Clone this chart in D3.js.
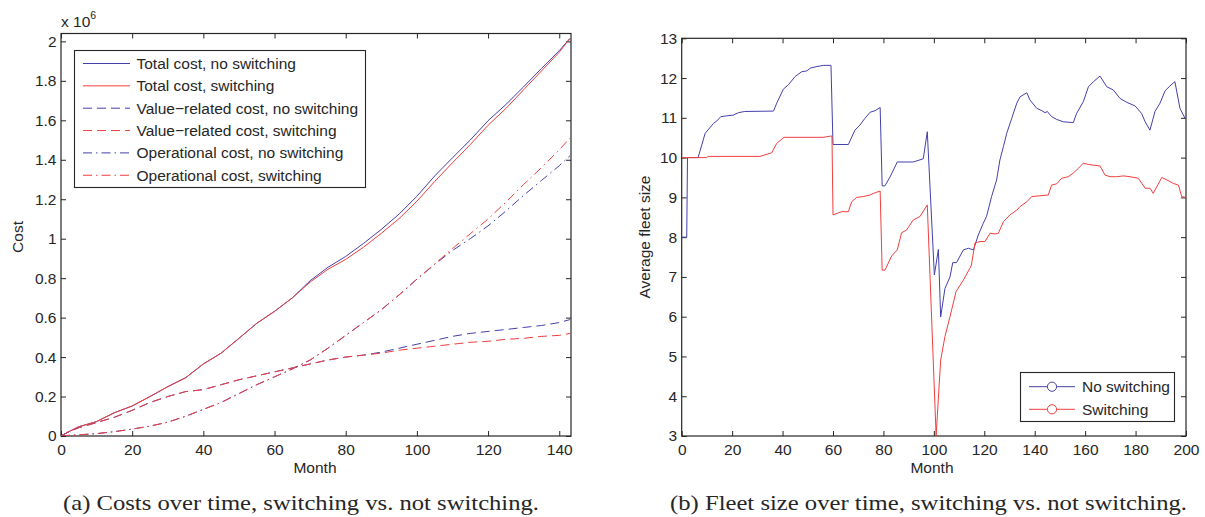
<!DOCTYPE html>
<html>
<head>
<meta charset="utf-8">
<script src="https://cdn.jsdelivr.net/npm/d3@7.9.0/dist/d3.min.js"></script>
<style>
  html, body { margin: 0; padding: 0; background: #fff; }
  svg { display: block; }
  text { font-family: "Liberation Sans", Arial, sans-serif; fill: #262626; }
  .caption { font-family: "Liberation Serif", "DejaVu Serif", serif; }
</style>
</head>
<body>
<svg id="chart" width="1205" height="517"></svg>
<script>
// ====== DATA ======

// (a) costs, in units of 1e6
const costMonths = [0, 2, 5, 10, 15, 20, 25, 30, 35, 40, 45, 50, 55, 60, 65, 70, 75, 80, 85, 90, 95, 100, 105, 110, 115, 120, 125, 130, 135, 140, 143];
const totalNoSwitch = [0, 0.02, 0.047, 0.073, 0.118, 0.152, 0.2, 0.25, 0.295, 0.365, 0.42, 0.495, 0.571, 0.632, 0.70, 0.787, 0.855, 0.91, 0.976, 1.047, 1.125, 1.215, 1.318, 1.41, 1.5, 1.598, 1.68, 1.77, 1.863, 1.953, 2.015];
const totalSwitch = [0, 0.02, 0.047, 0.073, 0.118, 0.152, 0.2, 0.25, 0.295, 0.365, 0.42, 0.495, 0.571, 0.632, 0.70, 0.78, 0.845, 0.895, 0.957, 1.027, 1.102, 1.19, 1.29, 1.385, 1.477, 1.575, 1.66, 1.755, 1.85, 1.945, 2.015];
const valueNoSwitch = [0, 0.02, 0.042, 0.068, 0.095, 0.13, 0.17, 0.2, 0.225, 0.235, 0.26, 0.285, 0.305, 0.325, 0.345, 0.365, 0.385, 0.40, 0.41, 0.425, 0.445, 0.465, 0.485, 0.505, 0.52, 0.53, 0.54, 0.55, 0.56, 0.575, 0.59];
const valueSwitch = [0, 0.02, 0.042, 0.068, 0.095, 0.13, 0.17, 0.2, 0.225, 0.235, 0.26, 0.285, 0.305, 0.325, 0.345, 0.365, 0.385, 0.40, 0.41, 0.42, 0.435, 0.445, 0.455, 0.465, 0.475, 0.48, 0.49, 0.495, 0.505, 0.51, 0.52];
const opNoSwitch = [0, 0.003, 0.006, 0.012, 0.022, 0.035, 0.05, 0.07, 0.1, 0.135, 0.17, 0.215, 0.26, 0.3, 0.34, 0.385, 0.445, 0.51, 0.575, 0.64, 0.715, 0.795, 0.87, 0.94, 1.0, 1.065, 1.14, 1.22, 1.295, 1.37, 1.42];
const opSwitch = [0, 0.003, 0.006, 0.012, 0.022, 0.035, 0.05, 0.07, 0.1, 0.135, 0.17, 0.215, 0.26, 0.3, 0.34, 0.385, 0.445, 0.51, 0.575, 0.64, 0.715, 0.795, 0.872, 0.95, 1.025, 1.1, 1.185, 1.275, 1.36, 1.45, 1.51];

const costLabels = [
  'Total cost, no switching',
  'Total cost, switching',
  'Value\u2212related cost, no switching',
  'Value\u2212related cost, switching',
  'Operational cost, no switching',
  'Operational cost, switching'
];

// (b) average fleet size
const fleetMonthsNo = [0, 2, 2.3, 6.5, 9.3, 12.6, 13.9, 15.5, 17.9, 20.5, 22.5, 25, 36.4, 37.7, 40.3, 42.3, 45, 47.6, 49.6, 51, 53.6, 56.2, 59.2, 60, 66.1, 68.7, 70.7, 72.7, 74.7, 76.7, 78.7, 79.5, 80.6, 82.6, 85.5, 91.8, 95.8, 97.4, 100.2, 101.8, 102.7, 104.4, 106.4, 107.5, 109, 111.7, 113.7, 115.7, 117.6, 119.6, 120.9, 122.9, 124.9, 126.2, 127.6, 128.9, 130.9, 132.9, 134.2, 136.9, 138.1, 140.8, 142.8, 144.1, 145, 146.7, 148.7, 151.4, 155.3, 156.6, 159.3, 161.3, 163.3, 165.9, 168.6, 171.2, 173.8, 176.5, 179.8, 182.4, 183.8, 185.7, 187.7, 189.7, 191.7, 193.6, 195.6, 197.6, 199.6, 200];
const fleetNo = [8, 8, 10, 10, 10.61, 10.86, 10.92, 11.03, 11.05, 11.07, 11.13, 11.16, 11.17, 11.37, 11.72, 11.83, 12.04, 12.16, 12.18, 12.25, 12.29, 12.32, 12.32, 10.33, 10.33, 10.69, 10.82, 10.99, 11.14, 11.18, 11.26, 9.29, 9.29, 9.51, 9.89, 9.89, 9.97, 10.65, 7.05, 7.69, 5.99, 6.71, 7.0, 7.36, 7.36, 7.68, 7.72, 7.68, 8.05, 8.35, 8.52, 9.02, 9.44, 9.94, 10.28, 10.61, 10.99, 11.37, 11.53, 11.63, 11.45, 11.24, 11.18, 11.13, 11.16, 11.03, 10.96, 10.9, 10.88, 11.11, 11.41, 11.78, 11.91, 12.05, 11.78, 11.7, 11.49, 11.39, 11.3, 11.11, 10.9, 10.69, 11.16, 11.37, 11.68, 11.8, 11.91, 11.24, 10.99, 10.97];

const fleetMonthsSw = [0, 9.9, 10.5, 31, 35.7, 37.7, 40.6, 56.2, 58.9, 59.6, 60, 63.4, 66.1, 67.4, 69.4, 72, 74.7, 76, 78.7, 79.5, 80.6, 83.3, 85.5, 87.2, 89.2, 91.8, 94.5, 97.4, 100.9, 102.7, 104.4, 106.4, 108.8, 111.7, 114.3, 114.9, 116.3, 118.3, 120.3, 122.3, 124.3, 125.6, 127.6, 130.2, 132.9, 134.2, 136.9, 138.8, 142.1, 145.4, 146.7, 148.7, 150.7, 153.3, 155.3, 157.3, 159.3, 161.3, 163.3, 165.9, 167.9, 169.9, 172.5, 175.2, 177.8, 181.1, 183.8, 185.7, 187, 190.4, 192.4, 195, 197, 198.3, 200];
const fleetSw = [10, 10, 10.03, 10.03, 10.12, 10.36, 10.51, 10.51, 10.54, 10.54, 8.56, 8.64, 8.64, 8.89, 9.0, 9.02, 9.06, 9.1, 9.16, 7.17, 7.17, 7.53, 7.68, 8.11, 8.18, 8.43, 8.52, 8.81, 3.0, 4.91, 5.5, 6.0, 6.63, 6.92, 7.22, 7.3, 7.85, 7.89, 7.89, 8.1, 8.08, 8.1, 8.39, 8.56, 8.68, 8.77, 8.89, 9.02, 9.04, 9.06, 9.31, 9.34, 9.48, 9.52, 9.61, 9.73, 9.86, 9.83, 9.81, 9.79, 9.56, 9.52, 9.52, 9.54, 9.52, 9.48, 9.23, 9.23, 9.1, 9.5, 9.44, 9.35, 9.31, 9.02, 9.0];

const fleetLabels = ['No switching', 'Switching'];

const costXTicks = [0, 20, 40, 60, 80, 100, 120, 140];
const costYTicks = [0, 0.2, 0.4, 0.6, 0.8, 1, 1.2, 1.4, 1.6, 1.8, 2];
const fleetXTicks = [0, 20, 40, 60, 80, 100, 120, 140, 160, 180, 200];
const fleetYTicks = [3, 4, 5, 6, 7, 8, 9, 10, 11, 12, 13];

// ====== STYLE ======

const BLUE = '#4440aa';
const RED = '#f23e3e';
const AXIS = '#262626';
const FONT = 15.5;
const DASH = '9,5';
const DASHDOT = '9,4,1.5,4';

const svg = d3.select('#chart');

// ====== HELPERS ======

function drawFrame(g, x, y, xTicks, yTicks, yFormat, clipId) {
  const [xl, xr] = x.range();
  const [yb, yt] = y.range();

  g.append('clipPath').attr('id', clipId)
    .append('rect')
    .attr('x', xl).attr('y', yt)
    .attr('width', xr - xl).attr('height', yb - yt);

  const bottom = g.append('g').attr('transform', `translate(0,${yb})`)
    .call(d3.axisBottom(x).tickValues(xTicks).tickSizeInner(-5).tickSizeOuter(0).tickPadding(8));
  const top = g.append('g').attr('transform', `translate(0,${yt})`)
    .call(d3.axisTop(x).tickValues(xTicks).tickSizeInner(-5).tickSizeOuter(0).tickFormat(''));
  const left = g.append('g').attr('transform', `translate(${xl},0)`)
    .call(d3.axisLeft(y).tickValues(yTicks).tickSizeInner(-5).tickSizeOuter(0).tickPadding(4.5).tickFormat(yFormat));
  const right = g.append('g').attr('transform', `translate(${xr},0)`)
    .call(d3.axisRight(y).tickValues(yTicks).tickSizeInner(-5).tickSizeOuter(0).tickFormat(''));

  [bottom, top, left, right].forEach((a) => {
    a.select('.domain').remove();
    a.selectAll('line').attr('stroke', AXIS);
    a.selectAll('text')
      .attr('font-size', FONT)
      .attr('font-family', '"Liberation Sans", Arial, sans-serif')
      .attr('fill', AXIS);
  });

  g.append('rect')
    .attr('x', xl).attr('y', yt)
    .attr('width', xr - xl).attr('height', yb - yt)
    .attr('fill', 'none')
    .attr('stroke', AXIS)
    .attr('stroke-width', 1.2);
}

function drawSeries(g, x, y, months, values, color, dash, clipId) {
  const line = d3.line()
    .x((d, i) => x(months[i]))
    .y((d) => y(d));
  g.append('path')
    .datum(values)
    .attr('clip-path', `url(#${clipId})`)
    .attr('d', line)
    .attr('fill', 'none')
    .attr('stroke', color)
    .attr('stroke-width', 1)
    .attr('stroke-dasharray', dash)
    .attr('stroke-linejoin', 'round');
}

// ====== (a) COSTS ======

const gA = svg.append('g');
const xA = d3.scaleLinear().domain([0, 143.3]).range([61, 571]);
const yA = d3.scaleLinear().domain([0, 2.04]).range([436, 33.5]);

drawFrame(gA, xA, yA, costXTicks, costYTicks, (d) => d3.format('~g')(d), 'clipA');

const costSeries = [
  { v: opNoSwitch, c: BLUE, d: DASHDOT },
  { v: opSwitch, c: RED, d: DASHDOT },
  { v: valueNoSwitch, c: BLUE, d: DASH },
  { v: valueSwitch, c: RED, d: DASH },
  { v: totalNoSwitch, c: BLUE, d: null },
  { v: totalSwitch, c: RED, d: null }
];
costSeries.forEach((s) => drawSeries(gA, xA, yA, costMonths, s.v, s.c, s.d, 'clipA'));

// exponent label
const expo = gA.append('text').attr('x', 61).attr('y', 26.5).attr('font-size', FONT);
expo.append('tspan').text('x 10');
expo.append('tspan').attr('font-size', 10.5).attr('dy', -8).text('6');

gA.append('text')
  .attr('transform', 'translate(23,237) rotate(-90)')
  .attr('text-anchor', 'middle')
  .attr('font-size', FONT)
  .text('Cost');

gA.append('text')
  .attr('x', 315).attr('y', 473)
  .attr('text-anchor', 'middle')
  .attr('font-size', FONT)
  .text('Month');

// legend (a)
const legA = gA.append('g');
legA.append('rect')
  .attr('x', 74.5).attr('y', 50.5).attr('width', 291).attr('height', 137)
  .attr('fill', '#fff').attr('stroke', AXIS).attr('stroke-width', 1.1);
const legAStyles = [
  { c: BLUE, d: null }, { c: RED, d: null },
  { c: BLUE, d: DASH }, { c: RED, d: DASH },
  { c: BLUE, d: DASHDOT }, { c: RED, d: DASHDOT }
];
costLabels.forEach((label, i) => {
  const yy = 63.5 + i * 22.35;
  legA.append('line')
    .attr('x1', 83).attr('x2', 130).attr('y1', yy).attr('y2', yy)
    .attr('stroke', legAStyles[i].c)
    .attr('stroke-width', 1)
    .attr('stroke-dasharray', legAStyles[i].d);
  legA.append('text')
    .attr('x', 136.5).attr('y', yy).attr('dy', '0.36em')
    .attr('font-size', FONT)
    .text(label);
});

// ====== (b) FLEET SIZE ======

const gB = svg.append('g');
const xB = d3.scaleLinear().domain([0, 200]).range([681.7, 1186]);
const yB = d3.scaleLinear().domain([3, 13]).range([436, 38.3]);

drawFrame(gB, xB, yB, fleetXTicks, fleetYTicks, d3.format('d'), 'clipB');

drawSeries(gB, xB, yB, fleetMonthsNo, fleetNo, BLUE, null, 'clipB');
drawSeries(gB, xB, yB, fleetMonthsSw, fleetSw, RED, null, 'clipB');

gB.append('text')
  .attr('transform', 'translate(650,237) rotate(-90)')
  .attr('text-anchor', 'middle')
  .attr('font-size', FONT)
  .text('Average fleet size');

gB.append('text')
  .attr('x', 932).attr('y', 473)
  .attr('text-anchor', 'middle')
  .attr('font-size', FONT)
  .text('Month');

// legend (b)
const legB = gB.append('g');
legB.append('rect')
  .attr('x', 1020.5).attr('y', 372.5).attr('width', 154).attr('height', 49)
  .attr('fill', '#fff').attr('stroke', AXIS).attr('stroke-width', 1.1);
fleetLabels.forEach((label, i) => {
  const yy = 386.7 + i * 22.6;
  const c = i === 0 ? BLUE : RED;
  legB.append('line')
    .attr('x1', 1029).attr('x2', 1075).attr('y1', yy).attr('y2', yy)
    .attr('stroke', c).attr('stroke-width', 1);
  legB.append('circle')
    .attr('cx', 1052).attr('cy', yy).attr('r', 4.6)
    .attr('fill', '#fff').attr('stroke', c).attr('stroke-width', 1);
  legB.append('text')
    .attr('x', 1082).attr('y', yy).attr('dy', '0.36em')
    .attr('font-size', FONT)
    .text(label);
});

// ====== CAPTIONS ======

svg.append('text')
  .attr('class', 'caption')
  .attr('x', 63).attr('y', 510)
  .attr('font-size', 21)
  .attr('textLength', 476)
  .attr('lengthAdjust', 'spacingAndGlyphs')
  .text('(a)  Costs over time, switching vs. not switching.');

svg.append('text')
  .attr('class', 'caption')
  .attr('x', 670).attr('y', 510)
  .attr('font-size', 21)
  .attr('textLength', 517)
  .attr('lengthAdjust', 'spacingAndGlyphs')
  .text('(b)  Fleet size over time, switching vs. not switching.');
</script>
</body>
</html>
